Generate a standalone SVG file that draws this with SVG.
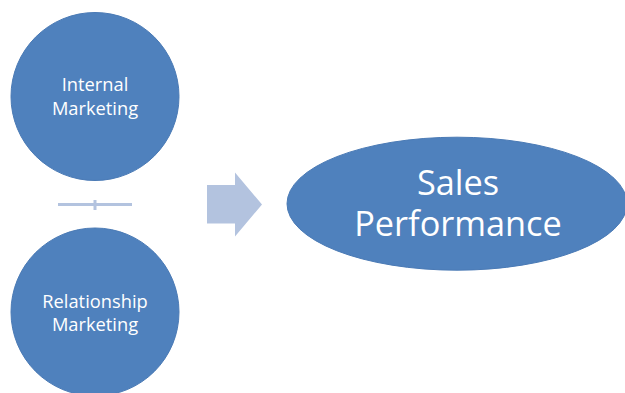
<svg xmlns="http://www.w3.org/2000/svg" width="625" height="393" viewBox="0 0 625 393">
  <style>
    .node { fill: #4F81BD; stroke: #4A7AB5; stroke-width: 1; }
    .label { fill: #FFFFFF; font-family: "Open Sans", "Liberation Sans", sans-serif; text-anchor: middle; }
    .small { font-size: 18.3px; }
    .big { font-size: 34.3px; }
    .light { fill: #B3C3DF; }
  </style>
  <rect width="625" height="393" fill="#FFFFFF"/>

  <g id="internal-marketing">
    <circle class="node" cx="95" cy="96.5" r="84"/>
    <text class="label small" x="95" y="91">Internal</text>
    <text class="label small" x="95" y="114.5">Marketing</text>
  </g>

  <g id="relationship-marketing">
    <circle class="node" cx="95" cy="312" r="84"/>
    <text class="label small" x="95" y="307.5">Relationship</text>
    <text class="label small" x="95" y="331">Marketing</text>
  </g>

  <g id="sales-performance">
    <ellipse class="node" cx="457" cy="203.7" rx="170" ry="66.5"/>
    <text class="label big" x="458" y="194.5">Sales</text>
    <text class="label big" x="458" y="236">Performance</text>
  </g>

  <g id="connectors">
    <!-- plus sign between the two inputs -->
    <rect class="light" x="58" y="203" width="74" height="3"/>
    <rect class="light" x="93.5" y="200" width="3" height="10"/>
    <!-- block arrow towards the result -->
    <polygon class="light" points="207,185 235,185 235,172.5 262,204.5 235,236.5 235,223.5 207,223.5"/>
  </g>
</svg>
